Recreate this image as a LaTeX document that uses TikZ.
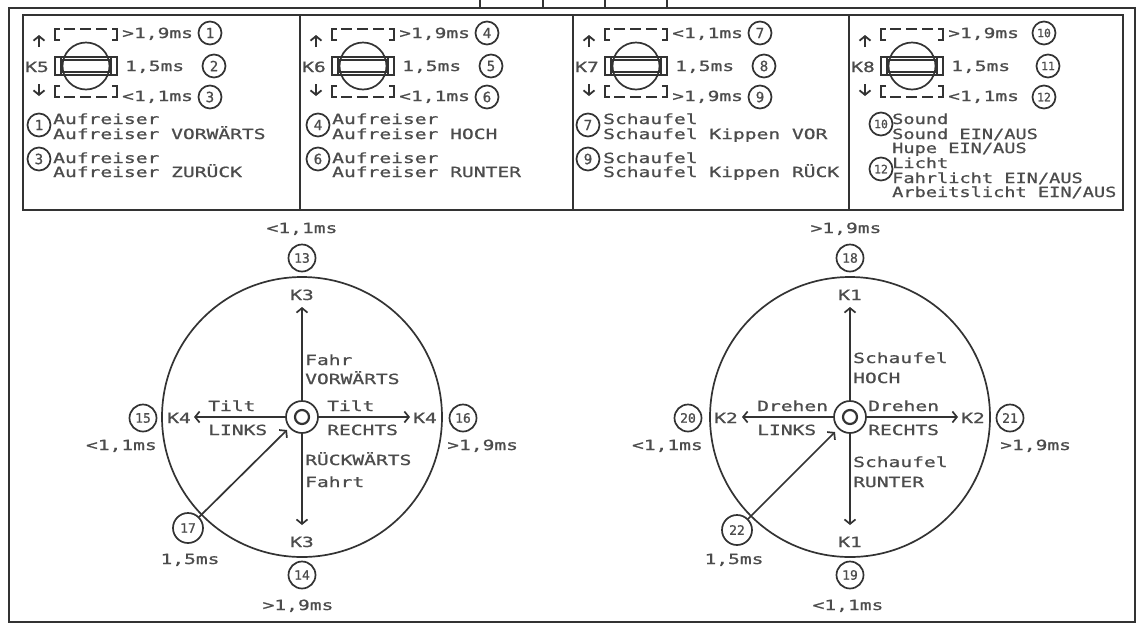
\documentclass[tikz,border=0pt]{standalone}
\usepackage{fontspec}
\usetikzlibrary{arrows.meta}
\newfontfamily\cadfont[FakeStretch=1.4,FakeBold=0.9]{DejaVu Sans Mono}
\newfontfamily\cadnarrowfont[FakeStretch=1.33,FakeBold=0.9]{DejaVu Sans Mono}
\newfontfamily\cadnumfont[FakeBold=0.9]{DejaVu Sans Mono}
\definecolor{ink}{gray}{0.2}
\definecolor{inktext}{gray}{0.3}

\tikzset{
  frame/.style={draw=ink, line width=2.4pt},
  divider/.style={draw=ink, line width=2pt},
  lw/.style={draw=ink, line width=1.7pt},
  txt/.style={font=\cadfont\fontsize{14}{15}\selectfont, text=inktext, inner sep=0pt},
  lbl/.style={txt, anchor=base west},
  lbln/.style={lbl, font=\cadnarrowfont\fontsize{14}{15}\selectfont},
  lblr/.style={txt, anchor=base east},
  lblc/.style={txt, anchor=base},
  num/.style={circle, draw=ink, line width=1.7pt, minimum size=23pt, inner sep=0pt,
              font=\cadnumfont\fontsize{14}{14}\selectfont, text=inktext},
  numtwo/.style={num, font=\cadnumfont\fontsize{11.5}{11.5}\selectfont},
  pnum/.style={num},
  pnumwide/.style={numtwo, xshift=8pt},
  dnum/.style={num, minimum size=27pt, font=\cadnumfont\fontsize{13}{13}\selectfont},
  hub/.style={circle, draw=ink, line width=1.7pt, minimum size=32pt, inner sep=0pt},
  dial/.style={circle, draw=ink, line width=1.7pt, minimum size=280pt, inner sep=0pt},
  arr/.style={draw=ink, line width=1.7pt, -{Straight Barb[length=4.5pt,width=11pt]}},
  tiparr/.style={draw=ink, line width=1.8pt, -{Straight Barb[length=4.5pt,width=11pt]}},
}

% one switch panel: #1 prefix, #2 left edge, #3 channel, #4 upper value,
% #5 upper number, #6 middle number, #7 lower value, #8 lower number, #9 number style
\newcommand\knobpanel[9]{%
  \begin{scope}[shift={(#2,0)}]
    \draw[tiparr] (16,47) -- (16,35);
    \draw[tiparr] (16,84) -- (16,96);
    % upper detent, dashed top edge
    \draw[lw] (37,40) -- (32,40) -- (32,29) -- (37,29);
    \draw[lw] (89,40) -- (94,40) -- (94,29) -- (89,29);
    \draw[lw] (41,29) -- (52,29) (57,29) -- (68,29) (73,29) -- (84,29);
    % lower detent, dashed bottom edge
    \draw[lw] (37,86) -- (32,86) -- (32,97) -- (37,97);
    \draw[lw] (89,86) -- (94,86) -- (94,97) -- (89,97);
    \draw[lw] (41,97) -- (52,97) (57,97) -- (68,97) (73,97) -- (84,97);
    % centre slider with knob
    \draw[lw] (32,57) rectangle (94,75);
    \draw[lw] (38,57) -- (38,75) (88,57) -- (88,75);
    \draw[lw] (38,60) -- (88,60) (38,72) -- (88,72);
    \draw[lw] (63,66) circle[radius=23.5pt];
    \node[lbl] (#1-k) at (2,72) {#3};
    \node[lbl] (#1-hi) at (99,38) {#4};
    \node[lbl] (#1-mid) at (102,71) {1,5ms};
    \node[lbl] (#1-lo) at (99,101) {#7};
    \node[#9] (#1-n1) at (187,33) {#5};
    \node[#9] (#1-n2) at (191,66) {#6};
    \node[#9] (#1-n3) at (187,97) {#8};
  \end{scope}}

\begin{document}
\begin{tikzpicture}[x=1pt,y=-1pt]
\useasboundingbox (0,0) rectangle (1138,630);
\fill[white] (0,0) rectangle (1138,630);

% frames
\draw[frame] (480,0) -- (480,8) (543,0) -- (543,8) (605,0) -- (605,8) (667,0) -- (667,8);
\draw[frame] (9,8) rectangle (1135,622);
\draw[frame] (23,15) rectangle (1123,210);
\draw[divider] (300,15) -- (300,210) (573,15) -- (573,210) (849,15) -- (849,210);

% switch panels
\knobpanel{p1}{23}{K5}{>1,9ms}{1}{2}{<1,1ms}{3}{pnum}
\knobpanel{p2}{300}{K6}{>1,9ms}{4}{5}{<1,1ms}{6}{pnum}
\knobpanel{p3}{573}{K7}{<1,1ms}{7}{8}{>1,9ms}{9}{pnum}
\knobpanel{p4}{849}{K8}{>1,9ms}{10}{11}{<1,1ms}{12}{pnumwide}

% function descriptions
\node[num] (d1) at (39,125) {1};
\node[lbl] (d1a) at (53,124) {Aufreiser};
\node[lbl] (d1b) at (53,139) {Aufreiser VORWÄRTS};
\node[num] (d3) at (39,159) {3};
\node[lbl] (d3a) at (53,163) {Aufreiser};
\node[lbl] (d3b) at (53,177) {Aufreiser ZURÜCK};

\node[num] (d4) at (318,125) {4};
\node[lbl] (d4a) at (332,124) {Aufreiser};
\node[lbl] (d4b) at (332,139) {Aufreiser HOCH};
\node[num] (d6) at (318,159) {6};
\node[lbl] (d6a) at (332,163) {Aufreiser};
\node[lbl] (d6b) at (332,177) {Aufreiser RUNTER};

\node[num] (d7) at (588,125) {7};
\node[lbl] (d7a) at (603,124) {Schaufel};
\node[lbl] (d7b) at (603,139) {Schaufel Kippen VOR};
\node[num] (d9) at (588,159) {9};
\node[lbl] (d9a) at (603,163) {Schaufel};
\node[lbl] (d9b) at (603,177) {Schaufel Kippen RÜCK};

\node[numtwo] (d10) at (881,124) {10};
\node[lbln] (d10a) at (892,124) {Sound};
\node[lbln] (d10b) at (892,139) {Sound EIN/AUS};
\node[lbln] (d10c) at (892,153) {Hupe EIN/AUS};
\node[numtwo] (d12) at (881,169) {12};
\node[lbln] (d12a) at (892,168) {Licht};
\node[lbln] (d12b) at (892,183) {Fahrlicht EIN/AUS};
\node[lbln] (d12c) at (892,197) {Arbeitslicht EIN/AUS};

% left stick: K3 / K4
\begin{scope}[shift={(302,417)}]
  \node[dial] (L-dial) at (0,0) {};
  \node[hub] (L-hub) at (0,0) {};
  \draw[lw, line width=2.2pt] (0,0) circle[radius=7pt];
  \coordinate (L-up) at (0,-110);
  \coordinate (L-down) at (0,108);
  \coordinate (L-left) at (-108,0);
  \coordinate (L-right) at (108,0);
  \coordinate (L-diag) at (-15,13);
  \draw[arr] (L-hub) -- (L-up);
  \draw[arr] (L-hub) -- (L-down);
  \draw[arr] (L-hub) -- (L-left);
  \draw[arr] (L-hub) -- (L-right);
  \node[lblc] (L-vt) at (0,-184) {<1,1ms};
  \node[dnum] (L-n13) at (0,-159) {13};
  \node[lblc] (L-kt) at (0,-117) {K3};
  \node[lbl] (L-f1) at (3,-52) {Fahr};
  \node[lbl] (L-f2) at (3,-33) {VORWÄRTS};
  \node[lbl] (L-t1) at (-94,-6) {Tilt};
  \node[lbl] (L-t2) at (-94,18) {LINKS};
  \node[lbl] (L-t3) at (25,-6) {Tilt};
  \node[lbl] (L-t4) at (25,18) {RECHTS};
  \node[lblr] (L-kl) at (-111,6) {K4};
  \node[lbl] (L-kr) at (111,6) {K4};
  \node[dnum] (L-n15) at (-159,1) {15};
  \node[dnum] (L-n16) at (161,1) {16};
  \node[lblr] (L-vl) at (-145,33) {<1,1ms};
  \node[lbl] (L-vr) at (145,33) {>1,9ms};
  \node[lbl] (L-b1) at (3,48) {RÜCKWÄRTS};
  \node[lbl] (L-b2) at (3,70) {Fahrt};
  \node[lblc] (L-kb) at (0,130) {K3};
  \node[dnum] (L-n14) at (0,158) {14};
  \node[lblc] (L-vb) at (-4,193) {>1,9ms};
  \node[dnum, minimum size=30pt] (L-n17) at (-114,111) {17};
  \node[lblc] (L-vd) at (-112,147) {1,5ms};
  \draw[arr] (L-n17) -- (L-diag);
\end{scope}

% right stick: K1 / K2
\begin{scope}[shift={(850,417)}]
  \node[dial] (R-dial) at (0,0) {};
  \node[hub] (R-hub) at (0,0) {};
  \draw[lw, line width=2.2pt] (0,0) circle[radius=7pt];
  \coordinate (R-up) at (0,-110);
  \coordinate (R-down) at (0,108);
  \coordinate (R-left) at (-108,0);
  \coordinate (R-right) at (108,0);
  \coordinate (R-diag) at (-15,15);
  \draw[arr] (R-hub) -- (R-up);
  \draw[arr] (R-hub) -- (R-down);
  \draw[arr] (R-hub) -- (R-left);
  \draw[arr] (R-hub) -- (R-right);
  \node[lblc] (R-vt) at (-4,-184) {>1,9ms};
  \node[dnum] (R-n18) at (0,-159) {18};
  \node[lblc] (R-kt) at (0,-117) {K1};
  \node[lbl] (R-s1) at (3,-54) {Schaufel};
  \node[lbl] (R-s2) at (3,-34) {HOCH};
  \node[lbl] (R-d1) at (-93,-6) {Drehen};
  \node[lbl] (R-d2) at (-93,18) {LINKS};
  \node[lbl] (R-d3) at (18,-6) {Drehen};
  \node[lbl] (R-d4) at (18,18) {RECHTS};
  \node[lblr] (R-kl) at (-112,6) {K2};
  \node[lbl] (R-kr) at (111,6) {K2};
  \node[dnum] (R-n20) at (-162,1) {20};
  \node[dnum] (R-n21) at (160,1) {21};
  \node[lblr] (R-vl) at (-147,33) {<1,1ms};
  \node[lbl] (R-vr) at (150,33) {>1,9ms};
  \node[lbl] (R-b1) at (3,50) {Schaufel};
  \node[lbl] (R-b2) at (3,70) {RUNTER};
  \node[lblc] (R-kb) at (0,130) {K1};
  \node[dnum] (R-n19) at (0,158) {19};
  \node[lblc] (R-vb) at (-2,193) {<1,1ms};
  \node[dnum, minimum size=30pt] (R-n22) at (-113,113) {22};
  \node[lblc] (R-vd) at (-116,147) {1,5ms};
  \draw[arr] (R-n22) -- (R-diag);
\end{scope}
\end{tikzpicture}
\end{document}
